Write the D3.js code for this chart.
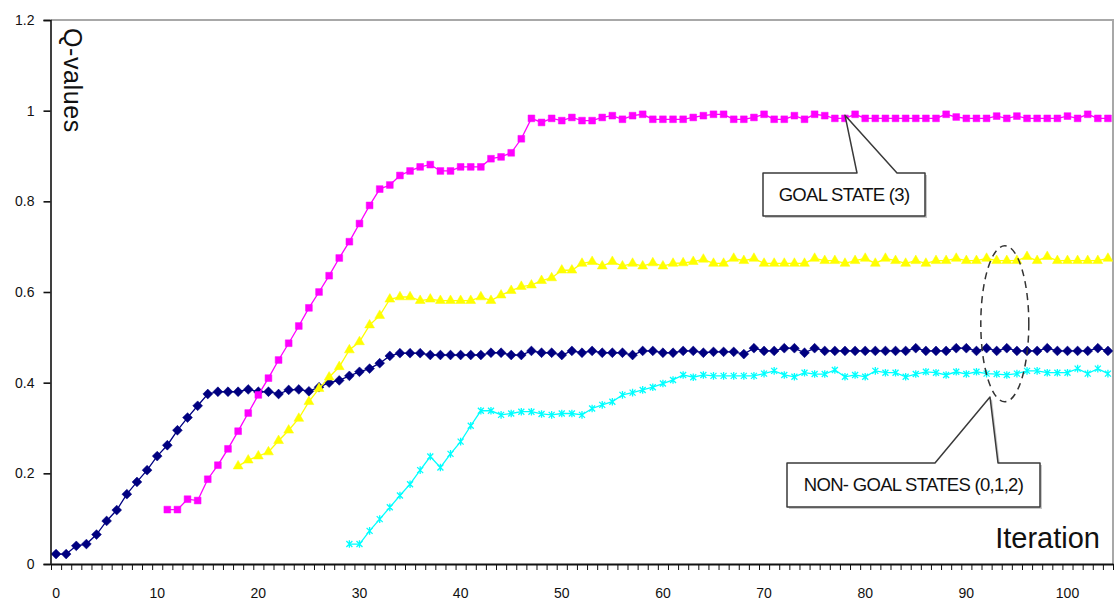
<!DOCTYPE html>
<html>
<head>
<meta charset="utf-8">
<script src="https://cdn.jsdelivr.net/npm/d3@7"></script>
<style>
    body { margin: 0; background: #fff; }
    svg { font-family: "Liberation Sans", Arial, sans-serif; }
    .axis text { fill: #111; }
</style>
</head>
<body>
<div id="chart"></div>
<script>
// categories on the x axis (one per iteration)
const iterations = d3.range(0, 105);
const xTickLabels = [0, 10, 20, 30, 40, 50, 60, 70, 80, 90, 100];
const yTickValues = [0, 0.2, 0.4, 0.6, 0.8, 1, 1.2];

// Q-values per state, each series starts at its own iteration
const state0Start = 0;
const state0Q = [
    0.022, 0.022, 0.040, 0.044, 0.065, 0.095, 0.119, 0.154, 0.181, 0.207,
    0.238, 0.262, 0.295, 0.323, 0.349, 0.375, 0.380, 0.380, 0.380, 0.385,
    0.380, 0.380, 0.375, 0.384, 0.385, 0.381, 0.390, 0.400, 0.405, 0.415,
    0.424, 0.431, 0.443, 0.459, 0.465, 0.465, 0.465, 0.461, 0.461, 0.461,
    0.461, 0.461, 0.461, 0.466, 0.466, 0.461, 0.461, 0.470, 0.466, 0.466,
    0.461, 0.470, 0.466, 0.470, 0.466, 0.466, 0.466, 0.461, 0.470, 0.470,
    0.466, 0.466, 0.470, 0.470, 0.466, 0.468, 0.468, 0.468, 0.463, 0.476,
    0.470, 0.470, 0.476, 0.476, 0.466, 0.476, 0.470, 0.470, 0.470, 0.470,
    0.470, 0.470, 0.470, 0.470, 0.470, 0.476, 0.470, 0.470, 0.470, 0.476,
    0.476, 0.470, 0.476, 0.470, 0.476, 0.470, 0.470, 0.470, 0.476, 0.470,
    0.470, 0.470, 0.470, 0.476, 0.470
];

const state1Start = 18;
const state1Q = [
    0.216, 0.229, 0.238, 0.247, 0.272, 0.295, 0.321, 0.358, 0.387, 0.412,
    0.435, 0.472, 0.490, 0.527, 0.548, 0.584, 0.589, 0.589, 0.581, 0.584,
    0.581, 0.581, 0.581, 0.581, 0.589, 0.581, 0.593, 0.603, 0.612, 0.615,
    0.625, 0.631, 0.648, 0.648, 0.663, 0.667, 0.657, 0.667, 0.657, 0.663,
    0.657, 0.664, 0.657, 0.663, 0.664, 0.667, 0.672, 0.663, 0.663, 0.674,
    0.669, 0.674, 0.663, 0.663, 0.663, 0.663, 0.663, 0.674, 0.669, 0.669,
    0.663, 0.669, 0.674, 0.663, 0.674, 0.669, 0.663, 0.669, 0.663, 0.669,
    0.669, 0.674, 0.669, 0.669, 0.674, 0.669, 0.669, 0.669, 0.678, 0.669,
    0.678, 0.669, 0.669, 0.669, 0.669, 0.669, 0.674
];

const state2Start = 29;
const state2Q = [
    0.044, 0.044, 0.073, 0.099, 0.125, 0.151, 0.176, 0.207, 0.237, 0.213,
    0.243, 0.270, 0.305, 0.338, 0.338, 0.329, 0.332, 0.336, 0.336, 0.331,
    0.329, 0.332, 0.332, 0.329, 0.343, 0.351, 0.358, 0.373, 0.378, 0.384,
    0.390, 0.398, 0.406, 0.417, 0.412, 0.417, 0.415, 0.415, 0.415, 0.415,
    0.415, 0.420, 0.426, 0.417, 0.413, 0.422, 0.419, 0.419, 0.428, 0.413,
    0.417, 0.413, 0.426, 0.422, 0.422, 0.413, 0.419, 0.424, 0.422, 0.417,
    0.424, 0.419, 0.424, 0.420, 0.419, 0.417, 0.420, 0.426, 0.426, 0.422,
    0.422, 0.422, 0.431, 0.420, 0.431, 0.420
];

const goalStart = 11;
const goalQ = [
    0.120, 0.120, 0.143, 0.140, 0.187, 0.218, 0.254, 0.293, 0.333, 0.373,
    0.410, 0.450, 0.487, 0.525, 0.565, 0.600, 0.636, 0.675, 0.711, 0.751,
    0.791, 0.827, 0.836, 0.857, 0.867, 0.876, 0.881, 0.867, 0.867, 0.876,
    0.876, 0.876, 0.894, 0.898, 0.907, 0.938, 0.983, 0.974, 0.983, 0.978,
    0.985, 0.978, 0.978, 0.985, 0.989, 0.981, 0.989, 0.992, 0.981, 0.981,
    0.981, 0.981, 0.985, 0.989, 0.992, 0.992, 0.981, 0.981, 0.985, 0.992,
    0.981, 0.981, 0.989, 0.981, 0.992, 0.989, 0.983, 0.983, 0.992, 0.983,
    0.983, 0.983, 0.983, 0.983, 0.983, 0.983, 0.983, 0.992, 0.986, 0.983,
    0.983, 0.983, 0.988, 0.983, 0.988, 0.983, 0.983, 0.983, 0.983, 0.988,
    0.983, 0.992, 0.983, 0.983
];

const series = [
    { key: 'state0', start: state0Start, values: state0Q, color: '#000080', marker: 'diamond' },
    { key: 'goal',   start: goalStart,   values: goalQ,   color: '#ff00ff', marker: 'square' },
    { key: 'state1', start: state1Start, values: state1Q, color: '#ffff00', marker: 'triangle' },
    { key: 'state2', start: state2Start, values: state2Q, color: '#00ffff', marker: 'star' }
];

const width = 1119, height = 603;
// plot area edges in px
const plot = { top: 20, bottom: 564, left: 51, right: 1113 };

const svg = d3.select('#chart').append('svg')
    .attr('width', width)
    .attr('height', height);

const x = d3.scaleBand()
    .domain(iterations)
    .range([plot.left, plot.right])
    .padding(0);

// same span as the band scale, used for the boundary tick marks
const xEdge = d3.scaleLinear()
    .domain([0, iterations.length])
    .range([plot.left, plot.right]);

const y = d3.scaleLinear()
    .domain([0, 1.2])
    .range([plot.bottom, plot.top]);

const cx = i => x(i) + x.bandwidth() / 2;

// plot area frame (top and right are light grey)
svg.append('path')
    .attr('d', `M${plot.left},${plot.top}H${plot.right}V${plot.bottom}`)
    .attr('fill', 'none')
    .attr('stroke', '#a8a8a8')
    .attr('stroke-width', 2);

// series lines + markers
const line = d3.line()
    .x(d => cx(d.i))
    .y(d => y(d.v));

const symbols = {
    diamond: d3.symbol().type(d3.symbolSquare).size(48)(),
    square: d3.symbol().type(d3.symbolSquare).size(46)(),
    triangle: d3.symbol().type(d3.symbolTriangle).size(42)(),
    star: 'M-3,-3L3,3M-3,3L3,-3M0,-3.8V3.8'
};

series.forEach(s => {
    const pts = s.values.map((v, k) => ({ i: s.start + k, v }));
    const g = svg.append('g').attr('class', 'series-' + s.key);

    g.append('path')
        .datum(pts)
        .attr('d', line)
        .attr('fill', 'none')
        .attr('stroke', s.color)
        .attr('stroke-width', 1.3);

    g.selectAll('path.marker')
        .data(pts)
        .join('path')
        .attr('class', 'marker')
        .attr('d', symbols[s.marker])
        .attr('transform', d => `translate(${cx(d.i)},${y(d.v)})` + (s.marker === 'diamond' ? ' rotate(45)' : ''))
        .attr('fill', s.marker === 'star' ? 'none' : s.color)
        .attr('stroke', s.color)
        .attr('stroke-width', s.marker === 'star' ? 1.3 : 0.5);
});

// axes
const yAxis = d3.axisLeft(y)
    .tickValues(yTickValues)
    .tickFormat(d => String(d))
    .tickSize(7)
    .tickPadding(9);

svg.append('g')
    .attr('class', 'axis')
    .attr('transform', `translate(${plot.left - 0.5},0)`)
    .call(yAxis)
    .call(g => g.selectAll('path, line').attr('stroke', '#111').attr('stroke-width', 1.6))
    .call(g => g.selectAll('text').style('font-size', '14px'));

const xTicks = d3.axisBottom(xEdge)
    .tickValues(d3.range(0, iterations.length + 1))
    .tickFormat('')
    .tickSizeInner(6)
    .tickSizeOuter(0);

svg.append('g')
    .attr('class', 'axis')
    .attr('transform', `translate(0,${plot.bottom})`)
    .call(xTicks)
    .call(g => g.selectAll('path, line').attr('stroke', '#111'))
    .call(g => g.select('.domain').attr('stroke-width', 2));

const xLabels = d3.axisBottom(x)
    .tickValues(xTickLabels)
    .tickSize(0)
    .tickPadding(24);

svg.append('g')
    .attr('class', 'axis')
    .attr('transform', `translate(0,${plot.bottom})`)
    .call(xLabels)
    .call(g => g.select('.domain').remove())
    .call(g => g.selectAll('text').style('font-size', '14px'));

// axis titles
svg.append('text')
    .attr('transform', `translate(64,28) rotate(90)`)
    .style('font-size', '25px')
    .style('letter-spacing', '0.6px')
    .attr('fill', '#111')
    .text('Q-values');

svg.append('text')
    .attr('x', 1100)
    .attr('y', 548)
    .attr('text-anchor', 'end')
    .style('font-size', '29px')
    .attr('fill', '#111')
    .text('Iteration');

// callouts: box with a wedge pointing at the data
function callout(box, tip, wedge, label) {
    const [x0, y0, x1, y1] = box;
    const d = `M${x0},${y0}H${wedge[0]}L${tip[0]},${tip[1]}L${wedge[1]},${y0}H${x1}V${y1}H${x0}Z`;
    svg.append('path')
        .attr('d', d)
        .attr('transform', 'translate(2,2)')
        .attr('fill', '#c8c8c8')
        .attr('stroke', 'none');
    svg.append('path')
        .attr('d', d)
        .attr('fill', '#fff')
        .attr('stroke', '#3a3a3a')
        .attr('stroke-width', 1.5)
        .attr('stroke-linejoin', 'round');
    svg.append('text')
        .attr('x', (x0 + x1) / 2)
        .attr('y', (y0 + y1) / 2 + 6)
        .attr('text-anchor', 'middle')
        .style('font-size', '18.5px')
        .style('letter-spacing', '-0.7px')
        .attr('fill', '#111')
        .text(label);
}

// dashed ellipse round the non-goal series
svg.append('ellipse')
    .attr('cx', cx(94) - 2)
    .attr('cy', y(0.53))
    .attr('rx', 24)
    .attr('ry', 78)
    .attr('fill', 'none')
    .attr('stroke', '#333')
    .attr('stroke-width', 1.5)
    .attr('stroke-dasharray', '7,5');

callout([763, 173, 925, 216], [cx(78), y(0.99)], [857, 897], 'GOAL STATE (3)');
callout([787, 463, 1040, 507], [990, 397], [935, 998], 'NON- GOAL STATES (0,1,2)');
</script>
</body>
</html>
